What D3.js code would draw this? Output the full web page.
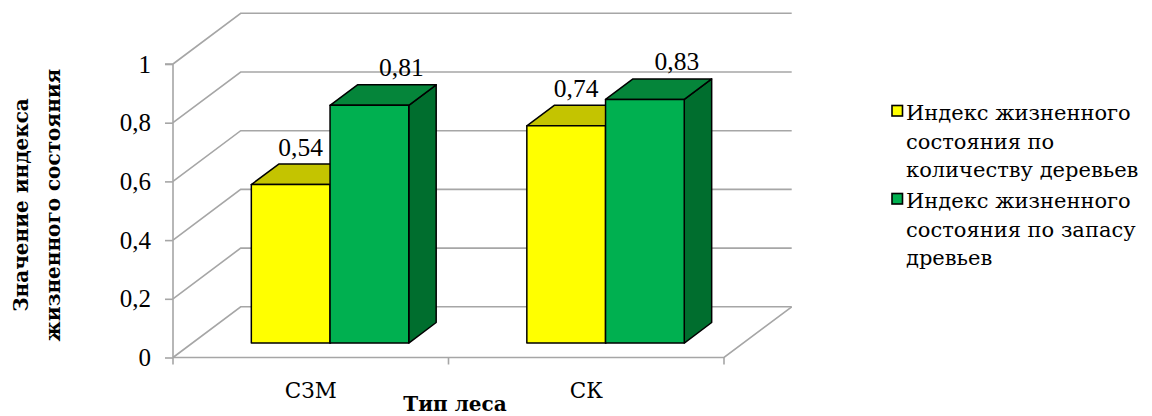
<!DOCTYPE html>
<html>
<head>
<meta charset="utf-8">
<script src="https://cdn.jsdelivr.net/npm/d3@7"></script>
<style>
  html, body { margin: 0; padding: 0; background: #fff; }
  svg { display: block; }
  text { fill: #000; }
  .num { font-family: "Liberation Serif", "Times New Roman", serif; }
  .cyr { font-family: "DejaVu Serif", serif; }
</style>
</head>
<body>
<svg id="chart" width="1152" height="416"></svg>
<script>
// Forest types and the two vitality indices
const categories = ["СЗМ", "СК"];
const seriesNames = [
  ["Индекс жизненного", "состояния по", "количеству деревьев"],
  ["Индекс жизненного", "состояния по запасу", "древьев"]
];
const countIndex = [0.54, 0.74];
const stockIndex = [0.81, 0.83];
const yTicks = [0, 0.2, 0.4, 0.6, 0.8, 1];
const xTitle = "Тип леса";
const yTitle = ["Значение индекса", "жизненного состояния"];

const series = [
  { values: countIndex, front: "#FFFF00", top: "#C4C400", side: "#A8A800" },
  { values: stockIndex, front: "#00B050", top: "#05853A", side: "#006E2E" }
];

const svg = d3.select("#chart");
const fmt = v => String(v).replace(".", ",");

// Front plane scales
const x = d3.scaleBand().domain(categories).range([173, 724]).paddingInner(0).paddingOuter(0);
const y = d3.scaleLinear().domain([0, 1]).range([357.5, 64]);

// Oblique depth of the plot box
const DX = 67.7, DY = -50.7;
const depthFront = 0.285, depthBack = 0.69;

const grid = "#A6A6A6";

// Back wall and left wall gridlines
const gw = svg.append("g").attr("stroke", grid).attr("stroke-width", 1.6).attr("fill", "none");
yTicks.forEach(t => {
  const yf = y(t), yb = y(t) + DY;
  gw.append("path").attr("d", `M${x.range()[0]},${yf}L${x.range()[0] + DX},${yb}L${x.range()[1] + DX},${yb}`);
});
// Floor edges
gw.append("path").attr("d",
  `M${x.range()[0]},${y(0)}L${x.range()[1]},${y(0)}L${x.range()[1] + DX},${y(0) + DY}`);

// Y axis line with outward ticks
const yAxis = svg.append("g").attr("transform", `translate(${x.range()[0]},0)`)
  .call(d3.axisLeft(y).tickValues(yTicks).tickSize(8).tickPadding(14).tickFormat(fmt));
yAxis.attr("font-family", null).attr("font-size", null);
yAxis.select(".domain").attr("stroke", grid).attr("stroke-width", 1.6).attr("d", `M-8,${y(1)}H0V${y(0)}`);
yAxis.selectAll(".tick line").attr("stroke", grid).attr("stroke-width", 1.6);
yAxis.selectAll(".tick text").attr("class", "num").attr("font-size", 25).attr("fill", "#000");

// Category ticks along the front floor edge
const catEdges = [x.range()[0]].concat(categories.map(c => x(c) + x.bandwidth()));
svg.append("g").selectAll("line").data(catEdges).join("line")
  .attr("x1", d => d).attr("x2", d => d)
  .attr("y1", y(0)).attr("y2", y(0) + 7)
  .attr("stroke", grid).attr("stroke-width", 1.6);

// Category labels
svg.append("g").selectAll("text").data(categories).join("text")
  .attr("class", "cyr")
  .attr("x", d => x(d) + x.bandwidth() / 2)
  .attr("y", 398)
  .attr("text-anchor", "middle")
  .attr("font-size", 21.5)
  .text(d => d);

// Bars: each category holds two bars, gap width 150%
const barW = x.bandwidth() / 3.5;
const x1 = d3.scaleBand().domain(d3.range(series.length)).range([0, barW * series.length]).padding(0);
const fdx = DX * depthFront, fdy = DY * depthFront;
const ddx = DX * (depthBack - depthFront), ddy = DY * (depthBack - depthFront);

const bars = svg.append("g").attr("stroke", "#000").attr("stroke-width", 1.5).attr("stroke-linejoin", "round");
categories.forEach((c, ci) => {
  series.forEach((s, si) => {
    const v = s.values[ci];
    const x0 = x(c) + x.bandwidth() * 0.75 / 3.5 + x1(si) + fdx;
    const xr = x0 + x1.bandwidth();
    const yb = y(0) + fdy, yt = y(v) + fdy;
    const g = bars.append("g");
    g.append("path").attr("fill", s.side)
      .attr("d", `M${xr},${yt}L${xr + ddx},${yt + ddy}L${xr + ddx},${yb + ddy}L${xr},${yb}Z`);
    g.append("path").attr("fill", s.top)
      .attr("d", `M${x0},${yt}L${xr},${yt}L${xr + ddx},${yt + ddy}L${x0 + ddx},${yt + ddy}Z`);
    g.append("rect").attr("fill", s.front)
      .attr("x", x0).attr("y", yt).attr("width", xr - x0).attr("height", yb - yt);
  });
});

// Value labels above each bar
const labelShift = [10, 32];
const labels = svg.append("g");
categories.forEach((c, ci) => {
  series.forEach((s, si) => {
    const v = s.values[ci];
    const cx = x(c) + x.bandwidth() * 0.75 / 3.5 + x1(si) + fdx + x1.bandwidth() / 2 + labelShift[si];
    labels.append("text").attr("class", "num")
      .attr("x", cx).attr("y", y(v) + fdy - 29)
      .attr("text-anchor", "middle").attr("font-size", 25.5)
      .text(fmt(v));
  });
});

// Axis titles
svg.append("text").attr("class", "cyr").attr("x", 455).attr("y", 411).attr("text-anchor", "middle")
  .attr("font-size", 20).attr("font-weight", "bold").text(xTitle);
const yt = svg.append("g").attr("transform", "translate(0,205) rotate(-90)");
yTitle.forEach((line, i) => {
  yt.append("text").attr("class", "cyr").attr("x", 0).attr("y", 28 + i * 32).attr("text-anchor", "middle")
    .attr("font-size", 20).attr("font-weight", "bold").text(line);
});

// Legend
const legend = svg.append("g");
const entryTop = [120, 208];
series.forEach((s, si) => {
  legend.append("rect").attr("x", 892).attr("y", entryTop[si] - 14.5).attr("width", 10.5).attr("height", 10.5)
    .attr("fill", s.front).attr("stroke", "#000").attr("stroke-width", 1.6);
  seriesNames[si].forEach((line, li) => {
    legend.append("text").attr("class", "cyr").attr("x", 906).attr("y", entryTop[si] + li * 28.5)
      .attr("font-size", 21).text(line);
  });
});
</script>
</body>
</html>
